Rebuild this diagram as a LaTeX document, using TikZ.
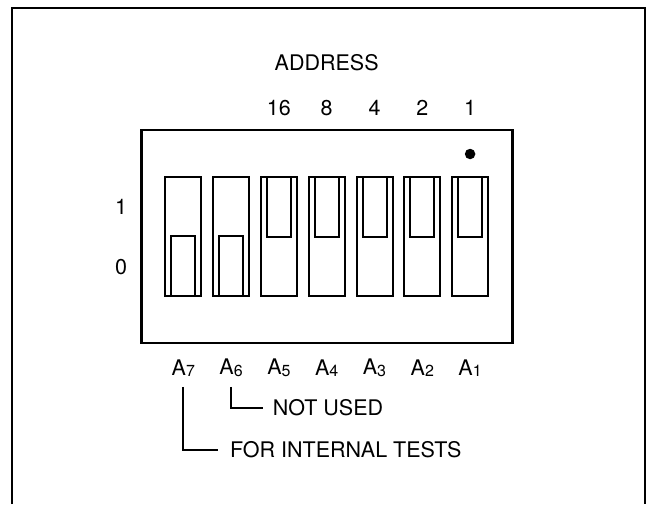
\documentclass[tikz,border=0pt]{standalone}
\usepackage{fontspec}
\setmainfont{TeX Gyre Heros}
\usetikzlibrary{positioning}

\newcommand{\addr}[1]{A\raisebox{-1.5pt}{\fontsize{16}{16}\selectfont #1}}

\begin{document}
\begin{tikzpicture}[x=1pt, y=-1pt, font=\fontsize{21.5}{26}\selectfont, node distance=47.8pt,
    frame/.style={line width=2.8pt},
    dipbox/.style={draw, line width=2.8pt, minimum width=371pt, minimum height=213pt},
    switch/.style={draw, line width=2pt, minimum width=36pt, minimum height=119pt, inner sep=0},
    slider/.style={draw, line width=2pt, minimum width=24pt, minimum height=60pt, inner sep=0},
    led/.style={fill, circle, minimum size=10.5pt, inner sep=0},
    txt/.style={inner sep=0},
    leader/.style={line width=1.8pt},
    ]

    \useasboundingbox (0,0) rectangle (653,504);
    \draw[frame] (12,504) -- (12,8) -- (645,8) -- (645,504);

    \node[dipbox](dip) at (327,236.5){};

    \node[switch](s7) at (183.3,236.5){};
    \node[switch](s6)[right of = s7]{};
    \node[switch](s5)[right of = s6]{};
    \node[switch](s4)[right of = s5]{};
    \node[switch](s3)[right of = s4]{};
    \node[switch](s2)[right of = s3]{};
    \node[switch](s1)[right of = s2]{};

    % sliders: A7, A6 at 0, the others at 1
    \node[slider, anchor=south](k7) at (s7.south){};
    \node[slider, anchor=south](k6) at (s6.south){};
    \node[slider, anchor=north](k5) at (s5.north){};
    \node[slider, anchor=north](k4) at (s4.north){};
    \node[slider, anchor=north](k3) at (s3.north){};
    \node[slider, anchor=north](k2) at (s2.north){};
    \node[slider, anchor=north](k1) at (s1.north){};

    \node[led](dot)[above of = s1, node distance=82.5pt]{};

    \node[txt](n16)[above of = s5, node distance=128.2pt]{16};
    \node[txt](n8)[above of = s4, node distance=128.2pt]{8};
    \node[txt](n4)[above of = s3, node distance=128.2pt]{4};
    \node[txt](n2)[above of = s2, node distance=128.2pt]{2};
    \node[txt](n1)[above of = s1, node distance=128.2pt]{1};
    \node[txt](address)[above of = n8, node distance=45.6pt]{ADDRESS};

    \node[txt](one) at (121,207){1};
    \node[txt](zero) at (121,267){0};

    \node[txt](a7)[below of = s7, node distance=131.5pt]{\addr{7}};
    \node[txt](a6)[below of = s6, node distance=131.5pt]{\addr{6}};
    \node[txt](a5)[below of = s5, node distance=131.5pt]{\addr{5}};
    \node[txt](a4)[below of = s4, node distance=131.5pt]{\addr{4}};
    \node[txt](a3)[below of = s3, node distance=131.5pt]{\addr{3}};
    \node[txt](a2)[below of = s2, node distance=131.5pt]{\addr{2}};
    \node[txt](a1)[below of = s1, node distance=131.5pt]{\addr{1}};

    \node[txt, anchor=west](unused) at (272.7,408){NOT USED};
    \node[txt, anchor=west](tests) at (230,450){FOR INTERNAL TESTS};

    \draw[leader, shorten <=10pt, shorten >=9.5pt](a6) |- (unused);
    \draw[leader, shorten <=10pt, shorten >=12pt](a7) |- (tests);

\end{tikzpicture}
\end{document}
